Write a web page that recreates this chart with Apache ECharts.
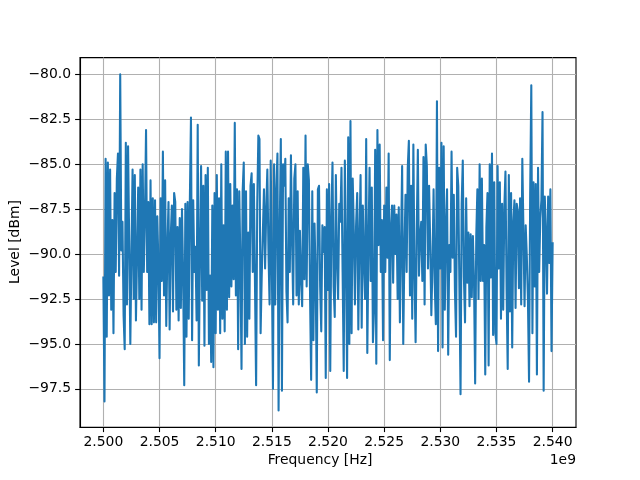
<!DOCTYPE html>
<html>
<head>
<meta charset="utf-8">
<script src="https://cdn.jsdelivr.net/npm/echarts@6/dist/echarts.min.js"></script>
<style>html,body{margin:0;padding:0;background:#fff}#c{width:640px;height:480px}</style>
</head>
<body>
<div id="c"></div>
<script>
const freqStart = 2.5e9;
const freqStep = 1e5;
const xTicks = [2.500e9, 2.505e9, 2.510e9, 2.515e9, 2.520e9, 2.525e9, 2.530e9, 2.535e9, 2.540e9];
const yTicks = [-97.5, -95.0, -92.5, -90.0, -87.5, -85.0, -82.5, -80.0];
const xRange = [2.49792e9, 2.54208e9];
const levels = [
-91.3,-98.2,-84.7,-94.6,-84.9,-92.3,-85.3,-93.1,-88.1,-94.4,
-86.6,-91.0,-85.8,-84.4,-91.2,-80.0,-89.8,-88.2,-93.4,-95.3,
-83.8,-92.8,-84.0,-89.3,-95.0,-90.0,-85.3,-92.5,-85.6,-93.7,
-90.0,-86.3,-92.5,-85.3,-93.1,-85.0,-91.0,-88.0,-83.1,-91.0,
-87.1,-93.9,-85.9,-93.9,-86.9,-93.8,-87.0,-93.8,-87.9,-90.5,
-95.8,-86.9,-91.5,-84.3,-92.3,-85.9,-94.0,-89.7,-87.1,-94.2,
-89.0,-87.3,-93.2,-86.6,-87.1,-93.1,-88.5,
-93.7,-88.0,-93.0,-87.5,-91.2,-97.3,-87.2,-94.6,-87.1,-93.6,
-87.0,-82.4,-94.8,-87.0,-91.0,-89.6,-93.7,-82.8,-96.2,-90.0,
-85.1,-92.6,-86.2,-95.1,-85.6,-92.0,-85.2,-95.0,-91.2,-96.0,
-87.3,-96.3,-86.6,-94.4,-85.6,-93.1,-86.9,-94.4,-85.0,-93.6,
-88.4,-94.3,-84.3,-93.1,-84.3,-92.4,-86.1,-91.8,-87.3,-91.4,
-82.7,-92.3,-86.4,-95.3,-86.5,-90.5,-96.4,-86.5,-84.9,-95.0,
-86.5,-94.6,-88.8,-93.6,-86.2,-85.5,-91.0,-86.1,
-86.0,-97.3,-87.2,-83.4,-83.6,-94.4,-91.2,-88.8,-86.4,-90.8,
-87.5,-85.3,-89.9,-92.8,-84.8,-90.6,-97.5,-85.0,-92.8,-86.4,
-84.4,-98.7,-88.7,-83.6,-97.6,-85.0,-86.2,-84.7,-92.1,-93.8,
-86.9,-91.0,-84.5,-89.2,-92.8,-85.8,-85.0,-92.3,-86.5,-92.8,
-88.7,-91.5,-92.9,-85.2,-91.4,-83.4,-91.8,-85.0,-85.9,-92.2,
-97.0,-86.5,-94.8,-88.3,-91.2,-97.7,-86.4,-86.2,-91.8,-94.3,
-88.4,-89.9,-88.5,-96.9,-86.4,-92.0,-86.1,-96.5,-88.0,
-84.9,-91.8,-93.5,-85.6,-90.4,-92.5,-87.2,-88.2,-85.2,-91.0,
-96.5,-84.8,-90.0,-96.9,-83.5,-95.0,-82.6,-94.4,-85.8,-88.8,
-92.8,-88.4,-86.6,-94.2,-89.0,-85.6,-94.1,-87.3,-90.5,-92.5,
-83.6,-95.5,-89.6,-85.2,-91.5,-86.3,-94.9,-93.1,-84.2,-96.1,
-83.1,-89.5,-83.9,-91.0,-88.1,-94.8,-87.3,-91.0,-86.3,-90.2,
-84.4,-95.9,-88.5,-87.3,-91.6,-87.3,-90.0,-87.8,-92.5,-87.4,
-93.8,-89.5,-85.1,-95.0,-90.0,-86.7,-91.0,-85.2,
-83.7,-92.3,-86.2,-93.6,-83.9,-91.0,-94.9,-88.7,-84.2,-91.2,
-89.0,-88.2,-91.5,-84.6,-92.8,-83.9,-85.1,-90.8,-86.2,-89.4,
-93.4,-90.6,-86.4,-91.6,-93.9,-81.5,-95.4,-85.2,-90.8,-83.8,
-95.2,-84.0,-93.1,-88.5,-86.4,-95.6,-89.5,-91.0,-84.3,-90.2,
-86.7,-92.0,-94.6,-85.2,-86.2,-91.9,-97.8,-87.2,-84.8,-91.3,
-93.8,-86.9,-91.6,-88.8,-92.9,-88.9,-92.4,-89.0,-91.5,-97.2,
-89.0,-86.4,-92.5,-85.0,-91.5,-85.8,-91.5,-89.5,
-96.7,-88.5,-86.6,-96.2,-85.0,-91.3,-84.4,-94.5,-86.0,-94.4,
-95.0,-85.1,-90.8,-86.0,-93.6,-87.2,-93.1,-87.4,-85.4,-92.0,
-96.4,-85.6,-93.2,-86.6,-95.2,-88.2,-87.0,-93.0,-87.2,-87.6,
-91.9,-86.9,-92.8,-84.7,-88.7,-92.9,-88.4,-90.1,-92.5,-97.1,
-86.6,-80.6,-94.4,-86.0,-91.8,-86.1,-96.7,-85.2,-91.0,-88.0,
-87.0,-82.1,-97.6,-86.8,-88.8,-92.2,-86.8,-90.5,-86.4,-95.4,
-89.4
];

const points = levels.map((v, i) => [freqStart + i * freqStep, v]);
const yMinData = Math.min(...levels), yMaxData = Math.max(...levels);
const ym = (yMaxData - yMinData) * 0.05;

const FONT = 'DejaVu Sans';
const FS = 13.9;
const chart = echarts.init(document.getElementById('c'), null, {renderer: 'canvas'});
chart.setOption({
  animation: false,
  backgroundColor: '#ffffff',
  grid: {left: 80, right: 64, top: 57.6, bottom: 52.8, show: true, borderColor: '#000', borderWidth: 1.1, backgroundColor: 'transparent', containLabel: false},
  xAxis: {
    type: 'value', min: xRange[0], max: xRange[1],
    axisLine: {show: true, onZero: false, lineStyle: {color: '#000', width: 1.1}},
    axisTick: {show: true, inside: false, length: 4.9, lineStyle: {color: '#000', width: 1.1}, customValues: xTicks},
    axisLabel: {customValues: xTicks, margin: 8, color: '#000', fontFamily: FONT, fontSize: FS,
      formatter: v => (v / 1e9).toFixed(3)},
    splitLine: {show: true, lineStyle: {color: '#b0b0b0', width: 1.1}}
  },
  yAxis: {
    type: 'value', min: yMinData - ym, max: yMaxData + ym,
    axisLine: {show: true, onZero: false, lineStyle: {color: '#000', width: 1.1}},
    axisTick: {show: true, inside: false, length: 4.9, lineStyle: {color: '#000', width: 1.1}, customValues: yTicks},
    axisLabel: {customValues: yTicks, margin: 9, color: '#000', fontFamily: FONT, fontSize: FS,
      formatter: v => (v < 0 ? '\u2212' : '') + Math.abs(v).toFixed(1)},
    splitLine: {show: true, lineStyle: {color: '#b0b0b0', width: 1.1}}
  },
  series: [{
    type: 'line', data: points, showSymbol: false, symbol: 'none', sampling: false,
    lineStyle: {color: '#1f77b4', width: 2.08, cap: 'square', join: 'round'}, clip: true, z: 3
  }],
  graphic: [
    {type: 'text', left: 'center', x: 0, top: 453, style: {text: 'Frequency [Hz]', fill: '#000', font: FS + 'px "' + FONT + '"'}},
    {type: 'text', x: 15, y: 242, rotation: Math.PI / 2, style: {text: 'Level [dBm]', fill: '#000', font: FS + 'px "' + FONT + '"', align: 'center', verticalAlign: 'middle'}},
    {type: 'text', x: 576, y: 460, style: {text: '1e9', fill: '#000', font: FS + 'px "' + FONT + '"', align: 'right', verticalAlign: 'middle'}}
  ]
});
</script>
</body>
</html>
